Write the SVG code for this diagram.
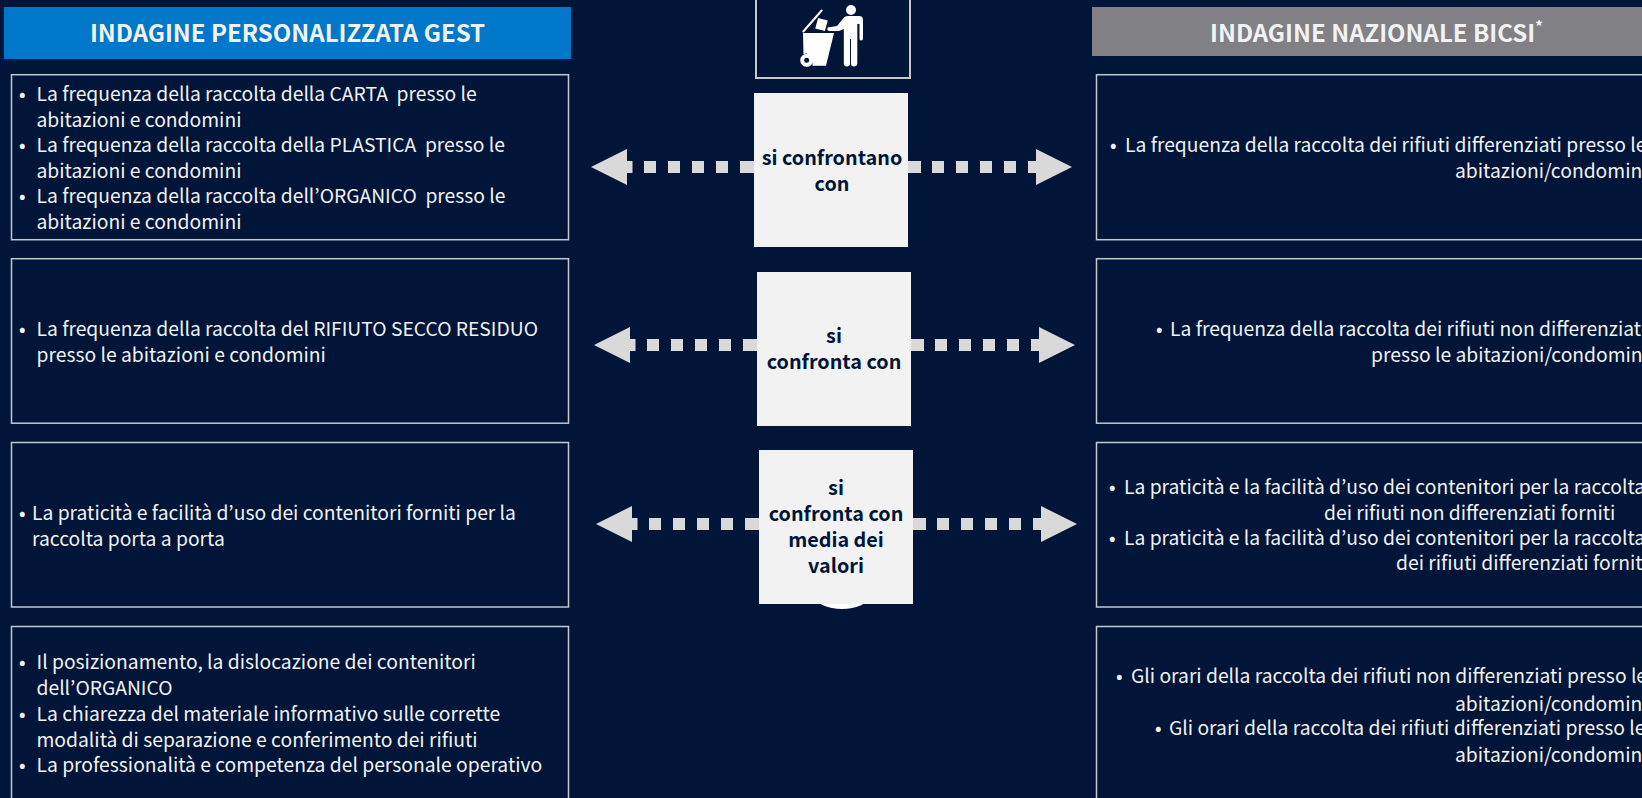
<svg xmlns="http://www.w3.org/2000/svg" width="1642" height="798" viewBox="0 0 1642 798">
<defs>
<style>
text{font-family:"Noto Sans CJK KR","Noto Sans",sans-serif;white-space:pre}
.b{fill:none;stroke:#c4c7cc;stroke-width:1.5}
.t{font-size:19.300px;fill:#f2f2f2}
.h{font-size:24px;font-weight:700;fill:#f2f2f2}
.l{font-size:19.800px;font-weight:700;fill:#001538;text-anchor:middle}
.a{fill:#d9d9d9}
.w{fill:#f2f2f2}
</style>
<g id="arrow"><path class="a" d="M0 0L36-18V-6H41.500V6H36V18Z"/><path class="a" d="M53-6h12v12h-12zM77-6h12v12h-12zM101-6h12v12h-12zM125-6h12v12h-12zM149-6h14v12h-14z"/><path class="a" d="M317-6h13v12h-13zM341-6h12v12h-12zM365-6h12v12h-12zM389-6h12v12h-12zM413-6h12v12h-12zM437-6H445V-18L481 0L445 18V6H437Z"/></g>
</defs>
<rect id="background" width="1642" height="798" fill="#001538"/>
<g id="connectors">
<use href="#arrow" x="591" y="167"/>
<use href="#arrow" x="594" y="345"/>
<use href="#arrow" x="596" y="524"/>
</g>
<g id="header-gest"><rect x="4" y="7" width="567" height="52" fill="#0077c8"/><text class="h" x="287.500" y="42" text-anchor="middle">INDAGINE PERSONALIZZATA GEST</text></g>
<g id="header-bicsi"><rect x="1092" y="7" width="550" height="49" fill="#808085"/><text class="h" x="1210" y="42">INDAGINE NAZIONALE BICSI<tspan font-size="15" font-weight="700" dy="-10">*</tspan></text></g>
<g id="icon">
<rect x="756" y="-4" width="154" height="82" fill="none" stroke="#c8c8c8" stroke-width="2"/>
<circle cx="851" cy="10" r="5" fill="#fff"/>
<path fill="#fff" d="M827.500 27.500L837 26L843.500 18Q845 16 848 16H859Q863 16 863 20V38.500Q863 40.500 861 40.500Q859.500 40.500 859.500 38.500V24H857.300V63.500Q857.300 66.500 854 66.500Q851 66.500 851 63.500V39H850V63.500Q850 66.500 847 66.500Q843.800 66.500 843.800 63.500V29L839 31H828.500Q827 30 827.500 27.500Z"/>
<path fill="#fff" d="M803 33H834L826 65.700H812.500Q814 58 807 53.500L803.500 54Z"/>
<path stroke="#fff" stroke-width="2" stroke-linecap="round" fill="none" d="M803.300 31.500L821.700 10.500"/>
<rect x="816.500" y="19" width="10" height="11" fill="#fff" transform="rotate(15 821.500 24.500)"/>
<circle cx="806.700" cy="60.300" r="4.500" fill="#001538" stroke="#fff" stroke-width="4"/>
</g>
<g id="label-1"><rect class="w" x="754" y="93" width="154" height="154"/><text class="l" x="832" y="165">si confrontano</text><text class="l" x="832" y="191">con</text></g>
<g id="label-2"><rect class="w" x="757" y="272" width="154" height="154"/><text class="l" x="834" y="343">si</text><text class="l" x="834" y="369">confronta con</text></g>
<g id="label-3"><ellipse cx="842" cy="596" rx="27" ry="13" fill="#fff"/><rect class="w" x="759" y="450" width="154" height="154"/><text class="l" x="836" y="495">si</text><text class="l" x="836" y="521">confronta con</text><text class="l" x="836" y="547">media dei</text><text class="l" x="836" y="573">valori</text></g>
<g id="left-1"><rect class="b" x="11.500" y="74.700" width="557" height="165"/>
<text class="t" x="19" y="101">•</text><text class="t" x="36.500" y="101">La frequenza della raccolta della CARTA  presso le</text><text class="t" x="36.500" y="126.500">abitazioni e condomini</text>
<text class="t" x="19" y="152">•</text><text class="t" x="36.500" y="152">La frequenza della raccolta della PLASTICA  presso le</text><text class="t" x="36.500" y="177.500">abitazioni e condomini</text>
<text class="t" x="19" y="203">•</text><text class="t" x="36.500" y="203">La frequenza della raccolta dell’ORGANICO  presso le</text><text class="t" x="36.500" y="228.500">abitazioni e condomini</text></g>
<g id="left-2"><rect class="b" x="11.500" y="258.700" width="557" height="164.500"/>
<text class="t" x="19" y="336">•</text><text class="t" x="36.500" y="336">La frequenza della raccolta del RIFIUTO SECCO RESIDUO</text><text class="t" x="36.500" y="361.500">presso le abitazioni e condomini</text></g>
<g id="left-3"><rect class="b" x="11.500" y="442.500" width="557" height="164.500"/>
<text class="t" x="19" y="520">•</text><text class="t" x="32" y="520">La praticità e facilità d’uso dei contenitori forniti per la</text><text class="t" x="32" y="545.500">raccolta porta a porta</text></g>
<g id="left-4"><rect class="b" x="11.500" y="626.500" width="557" height="176"/>
<text class="t" x="19" y="669">•</text><text class="t" x="36.500" y="669">Il posizionamento, la dislocazione dei contenitori</text><text class="t" x="36.500" y="695">dell’ORGANICO</text>
<text class="t" x="19" y="721">•</text><text class="t" x="36.500" y="721">La chiarezza del materiale informativo sulle corrette</text><text class="t" x="36.500" y="746.500">modalità di separazione e conferimento dei rifiuti</text>
<text class="t" x="19" y="772">•</text><text class="t" x="36.500" y="772">La professionalità e competenza del personale operativo</text></g>
<g id="right-1"><rect class="b" x="1096.500" y="74.700" width="560" height="165"/>
<text class="t" x="1110" y="152">•</text><text class="t" x="1125" y="152">La frequenza della raccolta dei rifiuti differenziati presso le</text><text class="t" x="1455" y="177.500">abitazioni/condomini</text></g>
<g id="right-2"><rect class="b" x="1096.500" y="258.700" width="560" height="164.500"/>
<text class="t" x="1156" y="336">•</text><text class="t" x="1170" y="336">La frequenza della raccolta dei rifiuti non differenziati</text><text class="t" x="1371" y="361.500">presso le abitazioni/condomini</text></g>
<g id="right-3"><rect class="b" x="1096.500" y="442.500" width="560" height="164.500"/>
<text class="t" x="1109" y="494">•</text><text class="t" x="1124" y="494">La praticità e la facilità d’uso dei contenitori per la raccolta</text><text class="t" x="1324" y="520">dei rifiuti non differenziati forniti</text>
<text class="t" x="1109" y="544.500">•</text><text class="t" x="1124" y="544.500">La praticità e la facilità d’uso dei contenitori per la raccolta</text><text class="t" x="1396" y="569.500">dei rifiuti differenziati forniti</text></g>
<g id="right-4"><rect class="b" x="1096.500" y="626.500" width="560" height="176"/>
<text class="t" x="1116" y="683">•</text><text class="t" x="1131" y="683">Gli orari della raccolta dei rifiuti non differenziati presso le</text><text class="t" x="1455" y="710.500">abitazioni/condomini</text>
<text class="t" x="1155" y="735">•</text><text class="t" x="1169" y="735">Gli orari della raccolta dei rifiuti differenziati presso le</text><text class="t" x="1455" y="762">abitazioni/condomini</text></g>
</svg>
